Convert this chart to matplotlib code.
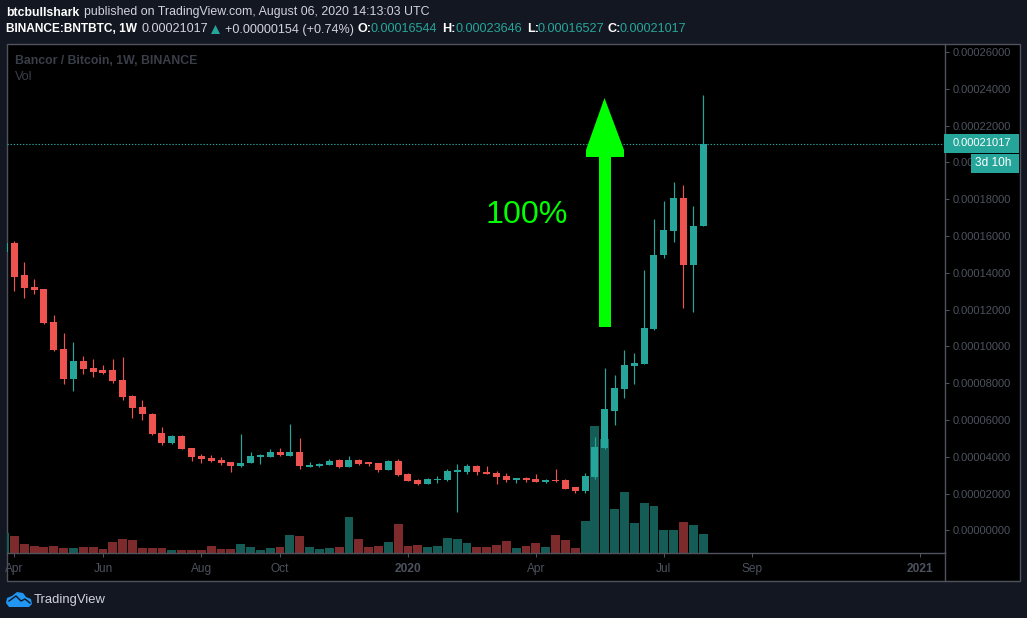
import matplotlib
matplotlib.use("Agg")
import matplotlib.pyplot as plt
from matplotlib.patches import Rectangle, Polygon
from matplotlib.ticker import FuncFormatter, FixedLocator

W, H = 1027, 618
BG = "#131722"; BORDER = "#50535e"; AXTXT = "#4c525e"
TEAL = "#26a69a"; RED = "#ef5350"; VTEAL = "#145c55"; VRED = "#7d2a2c"
GREEN = "#00ff00"; FONT = "Liberation Sans"

# weekly candles, prices in units of 1e-5 BTC
direction = list(
    "t" + "rrrrrr" + "t" + "rrrrrrrrr" + "t" + "rrrrrr" + "tttt" + "r" + "t" + "r" + "ttt" + "r" + "t"
    + "rrr" + "t" + "rrr" + "ttttt" + "rrrr" + "t" + "rr" + "t" + "rrr" + "tttttttttt" + "r" + "tt")
highs = [15.72,15.72,14.58,13.64,13.11,11.69,10.71,10.23,9.46,9.30,8.97,9.30,9.41,7.34,7.07,6.36,5.60,5.17,5.17,4.46,4.13,4.08,3.97,
         3.70,5.22,4.24,4.13,4.41,4.46,5.77,5.00,3.70,3.64,3.86,3.86,4.02,3.86,3.70,3.64,3.81,3.86,3.10,2.77,2.83,2.94,3.32,3.59,3.59,
         3.54,3.48,3.21,3.10,2.83,2.88,3.05,2.77,3.32,2.77,2.34,3.10,5.06,8.81,8.43,9.79,9.63,14.14,16.92,17.89,18.93,18.76,17.62,23.646]
tops = [15.61,15.61,13.87,13.22,13.11,11.31,9.84,9.19,9.19,8.81,8.70,8.70,8.16,7.29,6.69,6.31,5.28,5.11,5.11,4.46,4.02,3.92,3.81,
        3.70,3.64,4.02,4.08,4.24,4.24,4.24,4.24,3.54,3.59,3.75,3.81,3.81,3.81,3.70,3.64,3.75,3.75,3.05,2.72,2.77,2.77,3.21,3.26,3.48,
        3.48,3.15,3.10,2.94,2.83,2.83,2.77,2.72,2.72,2.72,2.34,2.94,4.51,6.58,7.72,8.97,9.08,10.99,14.96,16.32,18.06,18.06,16.53,21.017]
bottoms = [15.12,13.76,13.16,13.05,11.26,9.79,8.21,8.21,8.76,8.63,8.58,8.10,7.23,6.64,6.31,5.22,4.73,4.73,4.41,3.97,3.86,3.75,3.64,
           3.48,3.48,3.64,3.97,3.97,4.08,4.02,3.48,3.43,3.48,3.54,3.43,3.43,3.59,3.59,3.26,3.26,2.99,2.67,2.50,2.50,2.72,2.72,3.15,3.15,
           3.15,3.05,2.88,2.72,2.72,2.72,2.61,2.61,2.67,2.28,2.12,2.12,2.88,4.46,6.47,7.67,8.92,9.03,10.93,14.96,16.26,14.41,14.41,16.544]
lows = [15.12,13.00,12.62,12.84,11.20,9.74,7.94,7.56,8.48,8.32,8.48,8.00,7.07,6.09,5.98,5.17,4.62,4.68,4.41,3.75,3.64,3.70,3.54,
        3.15,3.43,3.64,3.59,3.97,4.02,4.02,3.32,3.43,3.43,3.54,3.37,3.43,3.54,3.48,3.15,3.26,2.94,2.67,2.45,2.50,2.56,2.67,1.03,3.05,
        2.99,3.05,2.50,2.61,2.56,2.61,2.61,2.56,2.61,2.28,2.01,2.01,2.77,4.41,5.71,7.18,7.94,9.03,10.88,14.79,15.66,12.07,11.86,16.527]
volumes = [20,17,9,7,6,7,5,5,6,6,4,11,14,13,5,5,5,3,3,3,3,7,4,4,9,6,3,5,6,18,17,
           6,4,5,6,36,14,6,7,11,29,7,8,6,7,15,14,10,6,6,8,12,5,7,10,6,18,13,5,32,
           127,114,44,61,30,50,47,23,23,31,28,19]
weeks = list(range(-1, 71))
tick_weeks = [0, 9, 19, 27, 40, 53, 66, 75, 92]
tick_labels = ["Apr", "Jun", "Aug", "Oct", "2020", "Apr", "Jul", "Sep", "2021"]
price_ticks = [i * 2e-5 for i in range(14)]
last_close = 21.017e-5

fig = plt.figure(figsize=(W / 100, H / 100), dpi=100, facecolor=BG)

def rect(x0, y0, x1, y1):
    return [x0 / W, 1 - y1 / H, (x1 - x0) / W, (y1 - y0) / H]

bg = fig.add_axes([0, 0, 1, 1], zorder=0); bg.set_xlim(0, W); bg.set_ylim(H, 0); bg.axis("off")
bg.add_patch(Rectangle((6.5, 43.5), 1013.5, 537.5, fc="black", ec=BORDER, lw=1))
bg.plot([944.5, 944.5], [552, 581], color=BORDER, lw=1)

box = rect(7, 44, 944.5, 552.5)
vax = fig.add_axes(box, zorder=1, facecolor="none")
ax = fig.add_axes(box, zorder=2, facecolor="none")
xlim = (-0.752, 94.53)
for a in (vax, ax):
    a.set_xlim(*xlim)
    for s in ("top", "left"):
        a.spines[s].set_visible(False)
vax.set_ylim(0, 508.5); vax.set_yticks([]); vax.set_xticks([]); vax.axis("off")
vax.bar(weeks, volumes, width=0.9, color=[VTEAL if d == "t" else VRED for d in direction], linewidth=0)

colors = [TEAL if d == "t" else RED for d in direction]
e5 = 1e-5
ax.vlines(weeks, [v * e5 for v in lows], [v * e5 for v in highs], colors=colors, linewidth=0.85, zorder=2)
ax.bar(weeks, [(t - b) * e5 for t, b in zip(tops, bottoms)], bottom=[b * e5 for b in bottoms],
       width=0.71, color=colors, linewidth=0, zorder=3)
ax.set_ylim(-1.197e-5, 26.43e-5)
ax.axhline(last_close, color=TEAL, lw=0.8, ls=(0, (1.2, 1.6)), zorder=4)

ax.yaxis.tick_right()
ax.yaxis.set_major_locator(FixedLocator(price_ticks))
ax.yaxis.set_major_formatter(FuncFormatter(lambda v, p: f"{v:.8f}"))
ax.tick_params(axis="y", length=3, width=0.75, color=BORDER, pad=3, labelcolor=AXTXT, labelsize=8.0)
ax.set_xticks(tick_weeks); ax.set_xticklabels(tick_labels)
ax.tick_params(axis="x", length=3, width=0.75, color=BORDER, pad=4.5, labelcolor=AXTXT, labelsize=8.6)
for lab in ax.get_xticklabels() + ax.get_yticklabels():
    lab.set_family(FONT)
for lab in ax.get_xticklabels():
    if lab.get_text().startswith("20"):
        lab.set_fontweight("bold")
for s in ("right", "bottom"):
    ax.spines[s].set_color(BORDER); ax.spines[s].set_linewidth(1)

fg = fig.add_axes([0, 0, 1, 1], zorder=3, facecolor="none"); fg.set_xlim(0, W); fg.set_ylim(H, 0); fg.axis("off")

def T(x, y, s, color="#d1d4dc", size=9.05, weight="normal", ha="left", family=FONT):
    return fg.text(x, y, s, color=color, fontsize=size, fontweight=weight, ha=ha, va="center", family=family)

# header
T(6, 12.5, "btcbullshark", "#ffffff", size=8.8, weight="bold")
T(84, 12.5, "published on TradingView.com, August 06, 2020 14:13:03 UTC", size=8.95)
T(6, 29.5, "BINANCE:BNTBTC, 1W", "#ffffff", size=8.6, weight="bold")
T(141, 29.5, "0.00021017")
fg.add_patch(Polygon([(211, 34), (215.5, 25), (220, 34)], fc=TEAL, ec="none"))
T(225, 29.5, "+0.00000154 (+0.74%)")
for x, s in [(357, "O:"), (442, "H:"), (527, "L:"), (608, "C:")]:
    T(x, 29.5, s, "#ffffff", weight="bold")
for x, s in [(370.5, "0.00016544"), (455, "0.00023646"), (538, "0.00016527"), (620, "0.00021017")]:
    T(x, 29.5, s, TEAL)
T(15, 61, "Bancor / Bitcoin, 1W, BINANCE", "#3a3e49", size=8.8, weight="bold")
T(15, 77.5, "Vol", "#3a3e49")

# price labels
fg.add_patch(Rectangle((944, 134), 75, 19, fc=TEAL, ec="none"))
T(953, 143.5, "0.00021017", "#ffffff", size=8.0)
fg.add_patch(Rectangle((971, 154), 48, 19, fc=TEAL, ec="none"))
T(975, 163.5, "3d 10h", "#ffffff", size=8.6)

# drawn arrow and text
fg.add_patch(Polygon([(599, 327), (599, 157), (586, 157), (586, 150), (604.5, 98), (624, 150), (624, 157),
                      (611, 157), (611, 327)], fc=GREEN, ec="none"))
T(486, 215, "100%", GREEN, size=23.2)

# logo
cloud = [(6, 603), (7, 598), (12, 596), (17, 592), (23, 593), (26, 597), (31, 599), (32, 604), (29, 607), (9, 607)]
fg.add_patch(Polygon(cloud, fc="#2196f3", ec="none"))
fg.plot([9, 16, 21, 25, 30], [601, 596, 601, 599, 603], color=BG, lw=1)
T(34, 600, "TradingView", "#d1d4dc", size=9.4)

fig.savefig("out.png", dpi=100, facecolor=BG)
